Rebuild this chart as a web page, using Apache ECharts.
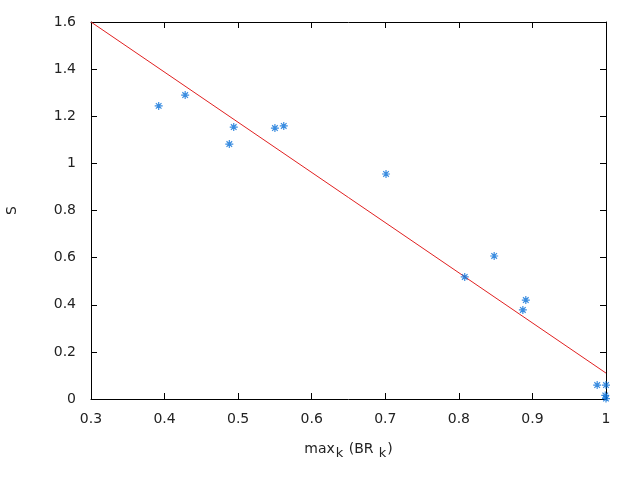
<!DOCTYPE html>
<html><head><meta charset="utf-8">
<script src="https://cdn.jsdelivr.net/npm/echarts@6/dist/echarts.min.js"></script>
<style>html,body{margin:0;padding:0;background:#fff}#c{width:640px;height:480px}</style>
</head><body><div id="c"></div>
<script>
const pointsX = [0.392, 0.428, 0.488, 0.494, 0.550, 0.562, 0.701, 0.808, 0.848, 0.891, 0.887, 0.988, 1.0, 0.999, 1.0];
const pointsY = [1.244, 1.290, 1.082, 1.154, 1.150, 1.159, 0.955, 0.518, 0.607, 0.420, 0.378, 0.059, 0.059, 0.015, 0.002];
const fitX = [0.3, 1.0];
const fitY = [1.6, 0.11];
const xTicks = [0.3, 0.4, 0.5, 0.6, 0.7, 0.8, 0.9, 1];
const yTicks = [0, 0.2, 0.4, 0.6, 0.8, 1, 1.2, 1.4, 1.6];

const font = 'DejaVu Sans';
const chart = echarts.init(document.getElementById('c'), null, {renderer: 'canvas'});
const axisCommon = {
  axisLine: {show: true, onZero: false, lineStyle: {color: '#000', width: 1}},
  axisTick: {show: true, inside: true, length: 6, lineStyle: {color: '#000'}},
  splitLine: {show: false}
};
const fmt = v => String(Math.round(v * 10) / 10);
chart.setOption({
  animation: false,
  backgroundColor: '#fff',
  grid: {left: 91, right: 34, top: 22, bottom: 81, containLabel: false, outerBoundsMode: 'none'},
  xAxis: [
    Object.assign({type: 'value', min: xTicks[0], max: xTicks[xTicks.length-1], interval: 0.1, position: 'bottom',
      axisLabel: {color: '#222', fontFamily: font, fontSize: 14, margin: 13, formatter: fmt},
      name: '{m|max}{s|k}{m| (BR}{s| k}{m|)}', nameLocation: 'middle', nameGap: 36,
      nameTextStyle: {fontFamily: font, fontSize: 14, color: '#222',
        rich: {m: {fontFamily: font, fontSize: 14, color: '#222', height: 18},
               s: {fontFamily: font, fontSize: 13, color: '#222', height: 18, padding: [10, 1, 0, 1]}}}
    }, axisCommon),
    Object.assign({type: 'value', min: xTicks[0], max: xTicks[xTicks.length-1], interval: 0.1, position: 'top', axisLabel: {show: false}}, axisCommon)
  ],
  yAxis: [
    Object.assign({type: 'value', min: 0, max: 1.6, interval: 0.2, position: 'left',
      axisLabel: {color: '#222', fontFamily: font, fontSize: 14, margin: 15, formatter: fmt},
      name: 'S', nameLocation: 'middle', nameGap: 72, nameRotate: 90,
      nameTextStyle: {fontFamily: font, fontSize: 14, color: '#222'}
    }, axisCommon),
    Object.assign({type: 'value', min: 0, max: 1.6, interval: 0.2, position: 'right', axisLabel: {show: false}}, axisCommon)
  ],
  series: [
    {type: 'line', data: fitX.map((x, i) => [x, fitY[i]]), symbol: 'none',
     lineStyle: {color: '#e02020', width: 1}, z: 2},
    {type: 'scatter', data: pointsX.map((x, i) => [x, pointsY[i]]),
     symbol: 'path://M0,5 L10,5 M5,0 L5,10 M1.5,1.5 L8.5,8.5 M8.5,1.5 L1.5,8.5', symbolSize: 8,
     itemStyle: {color: 'rgba(0,0,0,0)', borderColor: '#0a70d8', borderWidth: 1.2}, z: 3}
  ]
});
</script></body></html>
